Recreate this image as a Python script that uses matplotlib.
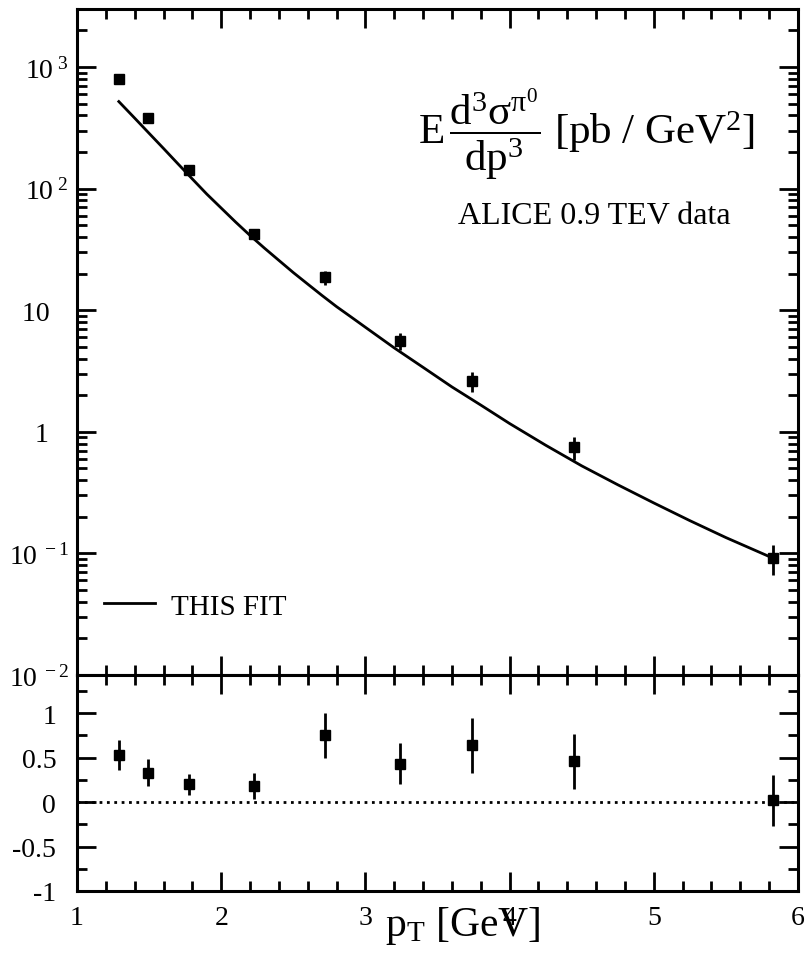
import numpy as np
import matplotlib
matplotlib.use("Agg")
from matplotlib import pyplot as plt
from matplotlib.ticker import FixedLocator, MultipleLocator, LogLocator, NullFormatter

plt.rcParams["font.family"] = ["Liberation Serif", "DejaVu Serif"]
plt.rcParams["mathtext.fontset"] = "custom"
plt.rcParams["mathtext.rm"] = "Liberation Serif"
plt.rcParams["mathtext.it"] = "Liberation Serif:italic"
plt.rcParams["mathtext.bf"] = "Liberation Serif:bold"

# ALICE 0.9 TeV pi0 data
pt = [1.29, 1.49, 1.78, 2.23, 2.72, 3.24, 3.74, 4.45, 5.83]
sigma = [795, 380, 143, 42, 18.6, 5.57, 2.62, 0.75, 0.092]
sigma_err = [40, 19, 9, 3.4, 2.6, 0.9, 0.5, 0.16, 0.026]

# fit curve
fit_pt = [1.29, 1.4, 1.5, 1.6, 1.7, 1.8, 1.9, 2.0, 2.1, 2.2, 2.3, 2.4, 2.5, 2.6,
          2.7, 2.8, 2.9, 3.0, 3.2, 3.4, 3.6, 3.8, 4.0, 4.25, 4.5, 4.75, 5.0,
          5.25, 5.5, 5.83]
fit_sigma = [520, 380, 285, 214, 160, 120, 90.2, 69.2, 53.1, 41.2, 32.4, 25.7,
             20.4, 16.4, 13.2, 10.7, 8.81, 7.24, 4.90, 3.39, 2.34, 1.66, 1.17,
             0.776, 0.525, 0.367, 0.260, 0.186, 0.135, 0.091]

# (data - fit) / fit
ratio = [0.53, 0.33, 0.20, 0.18, 0.75, 0.43, 0.64, 0.46, 0.02]
ratio_err = [0.17, 0.15, 0.12, 0.15, 0.25, 0.23, 0.31, 0.31, 0.29]

fig = plt.figure(figsize=(8.08, 9.62), dpi=100)
ax0 = fig.add_axes([0.0953, 0.2973, 0.8923, 0.6923])
ax1 = fig.add_axes([0.0953, 0.0728, 0.8923, 0.2245])

# top panel
ax0.plot(fit_pt, fit_sigma, color="black", lw=2, label="THIS FIT")
ax0.errorbar(pt, sigma, yerr=sigma_err, fmt="s", color="black", ms=7.5,
             elinewidth=2, capsize=0)
ax0.set_yscale("log")
ax0.set_xlim(1, 6)
ax0.set_ylim(1e-2, 3000)
ax0.yaxis.set_major_locator(FixedLocator([1e-2, 1e-1, 1, 10, 1e2, 1e3]))
ax0.yaxis.set_minor_locator(LogLocator(base=10, subs=np.arange(2, 10)))
ax0.yaxis.set_minor_formatter(NullFormatter())
# plain labels sit further left than the power-of-ten ones
ax0.set_yticklabels([r"$10^{\ -2}$", r"$10^{\ -1}$", "1\u2002\u2009",
                     "10\u2002\u2009", r"$10^{\ 2}$", r"$10^{\ 3}$"])
ax0.xaxis.set_major_locator(MultipleLocator(1))
ax0.xaxis.set_minor_locator(MultipleLocator(0.2))
ax0.tick_params(axis="x", labelbottom=False)

ax0.text(0.707, 0.812,
         r"$\mathrm{E}\,\dfrac{\mathrm{d^3σ^{π^0}}}{\mathrm{dp^3}}\ \mathrm{[pb\ /\ GeV^2]}$",
         transform=ax0.transAxes, ha="center", va="center", fontsize=31)
ax0.text(0.717, 0.69, "ALICE 0.9 TEV data", transform=ax0.transAxes,
         ha="center", va="center", fontsize=23)
ax0.legend(loc="center left", bbox_to_anchor=(0.038, 0.103), frameon=False,
           fontsize=21, handlelength=1.75, handletextpad=0.55,
           borderpad=0, borderaxespad=0)

# bottom panel
ax1.axhline(0, color="black", lw=2, ls=":")
ax1.errorbar(pt, ratio, yerr=ratio_err, fmt="s", color="black", ms=7.5,
             elinewidth=2, capsize=0)
ax1.set_xlim(1, 6)
ax1.set_ylim(-1, 1.43)
ax1.set_yticks([-1, -0.5, 0, 0.5, 1])
ax1.set_yticklabels(["-1", "-0.5", "0", "0.5", "1"])
ax1.yaxis.set_minor_locator(MultipleLocator(0.25))
ax1.xaxis.set_major_locator(MultipleLocator(1))
ax1.xaxis.set_minor_locator(MultipleLocator(0.2))
ax1.set_xlabel(r"$\mathrm{p_T}$ [GeV]", fontsize=30)
ax1.xaxis.set_label_coords(0.535, -0.06)

for ax in (ax0, ax1):
    for s in ax.spines.values():
        s.set_linewidth(2.2)
    ax.tick_params(which="both", direction="in", top=True, right=True,
                   width=2, labelsize=20, pad=10)
    ax.tick_params(which="major", length=14)
    ax.tick_params(which="minor", length=7)
ax0.tick_params(axis="y", pad=6)
ax1.tick_params(axis="y", pad=15)

fig.savefig("out.png", dpi=100)
